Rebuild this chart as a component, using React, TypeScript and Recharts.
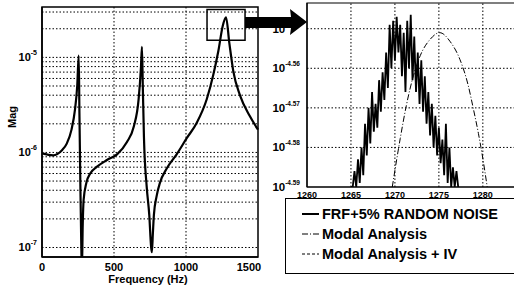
import React from 'react';
import { LineChart, Line, XAxis, YAxis, ReferenceLine, ReferenceArea } from 'recharts';

// ---- Left plot: FRF magnitude (log10 of Mag) ----
const leftFreq = [0, 78, 137, 171, 205, 229, 245, 255, 260, 266, 272, 277, 283, 289, 308, 336, 382, 451, 521, 590, 637, 671, 687, 694, 700, 708, 727, 745, 758, 763, 770, 777, 796, 819, 866, 935, 1005, 1074, 1144, 1190, 1225, 1255, 1278, 1301, 1329, 1375, 1444, 1500];
const leftLogMag = [-6.01, -6.03, -5.98, -5.91, -5.76, -5.55, -5.29, -4.98, -5.6, -6.3, -6.9, -7.25, -6.75, -6.5, -6.32, -6.22, -6.15, -6.08, -6.02, -5.89, -5.73, -5.44, -5.11, -4.89, -5.3, -5.84, -6.36, -6.66, -7.0, -7.05, -6.85, -6.66, -6.46, -6.32, -6.17, -6.02, -5.85, -5.69, -5.44, -5.18, -4.93, -4.67, -4.58, -4.85, -5.15, -5.4, -5.62, -5.76];
const leftXTicks = [0, 500, 1000, 1500];
const leftDecades = [-7, -6, -5];
const minorMultipliers = [1, 2, 3, 4, 5, 6, 7, 8, 9];
const zoomBoxFreq = [1146, 1410];
const zoomBoxLog = [-4.82, -4.495];

// ---- Right plot: zoom around 1270 Hz ----
const noiseFreq = [1265.0, 1265.2, 1265.4, 1265.6, 1265.8, 1266.0, 1266.2, 1266.4, 1266.6, 1266.8, 1267.0, 1267.2, 1267.4, 1267.6, 1267.8, 1268.0, 1268.2, 1268.4, 1268.6, 1268.8, 1269.0, 1269.2, 1269.4, 1269.6, 1269.8, 1270.0, 1270.2, 1270.4, 1270.6, 1270.8, 1271.0, 1271.2, 1271.4, 1271.6, 1271.8, 1272.0, 1272.2, 1272.4, 1272.6, 1272.8, 1273.0, 1273.2, 1273.4, 1273.6, 1273.8, 1274.0, 1274.2, 1274.4, 1274.6, 1274.8, 1275.0, 1275.2, 1275.4, 1275.6, 1275.8, 1276.0, 1276.2, 1276.4, 1276.6, 1276.8, 1277.0, 1277.2];
const noiseLogMag = [-4.59, -4.59, -4.586, -4.59, -4.583, -4.589, -4.58, -4.587, -4.574, -4.582, -4.57, -4.579, -4.566, -4.576, -4.569, -4.575, -4.563, -4.571, -4.561, -4.568, -4.556, -4.565, -4.549, -4.56, -4.548, -4.558, -4.547, -4.556, -4.549, -4.562, -4.551, -4.566, -4.548, -4.56, -4.5465, -4.563, -4.552, -4.566, -4.556, -4.569, -4.558, -4.571, -4.562, -4.574, -4.566, -4.577, -4.569, -4.58, -4.572, -4.582, -4.575, -4.584, -4.578, -4.587, -4.574, -4.589, -4.58, -4.59, -4.585, -4.59, -4.586, -4.59];
const modalFreq = [1269.7, 1270.6, 1271.3, 1272.1, 1272.9, 1274.0, 1275.1, 1276.3, 1277.4, 1278.3, 1278.9, 1279.5, 1280.0, 1280.5];
const modalLogMag = [-4.59, -4.5778, -4.5694, -4.5619, -4.5567, -4.5527, -4.551, -4.5533, -4.5578, -4.564, -4.57, -4.5765, -4.5828, -4.59];
const rightXTicks = [1260, 1265, 1270, 1275, 1280];
const rightYTicks = [-4.59, -4.58, -4.57, -4.56, -4.55];
const rightXDomain = [1260, 1284];
const rightYDomain = [-4.59, -4.5435];
const leftYDomain = [-7.1, -4.47];

const legendLabels = ['FRF+5% RANDOM NOISE', 'Modal Analysis', 'Modal Analysis + IV'];

const leftData = leftFreq.map((f, i) => ({ f, m: leftLogMag[i] }));
const noiseData = noiseFreq.map((f, i) => ({ f, m: noiseLogMag[i] }));
const modalData = modalFreq.map((f, i) => ({ f, m: modalLogMag[i] }));
const leftYTicks = leftDecades
  .flatMap((d) => minorMultipliers.map((k) => d + Math.log10(k)))
  .filter((v) => v >= leftYDomain[0] && v <= leftYDomain[1]);

const FONT = '"Liberation Sans", Arial, sans-serif';
const GRID = { stroke: '#000', strokeWidth: 1, strokeDasharray: '1.5 2' };

const LeftYTick = (props: any) => {
  const v = props.payload.value;
  if (Math.abs(v - Math.round(v)) > 1e-6) return null;
  return (
    <text x={37} y={props.y + 4} textAnchor="end" fontFamily={FONT} fontWeight="bold" fontSize={11} fill="#000">
      10<tspan dy={-6} fontSize={7}>{String(Math.round(v))}</tspan>
    </text>
  );
};

const LeftXTick = (props: any) => (
  <text x={props.x} y={271} textAnchor="middle" fontFamily={FONT} fontWeight="bold" fontSize={11} fill="#000">
    {props.payload.value}
  </text>
);

const RightYTick = (props: any) => (
  <text x={50} y={props.y + 4} textAnchor="end" fontFamily={FONT} fontWeight="bold" fontSize={11.5} fill="#000">
    10<tspan dy={-6} fontSize={6.5}>{props.payload.value.toFixed(2)}</tspan>
  </text>
);

const RightXTick = (props: any) => (
  <text x={props.x} y={198} textAnchor="middle" fontFamily={FONT} fontWeight="bold" fontSize={9} fill="#000">
    {props.payload.value}
  </text>
);

const dashes = [undefined, '6 2 1 2', '3 2'];

export default function App() {
  return (
    <div style={{ position: 'absolute', left: 0, top: 0, width: 514, height: 285, overflow: 'hidden', background: '#fff' }}>
      <div style={{ position: 'absolute', left: 0, top: 0 }}>
        <LineChart width={265} height={285} data={leftData} margin={{ top: 7, right: 7, bottom: 0, left: 0 }}>
          <XAxis dataKey="f" type="number" domain={[0, 1500]} ticks={leftXTicks} height={28} tickLine={false} axisLine={{ stroke: '#000', strokeWidth: 1.5 }} tick={<LeftXTick />} />
          <YAxis type="number" domain={leftYDomain} ticks={leftYTicks} allowDataOverflow width={42} tickLine={false} axisLine={{ stroke: '#000', strokeWidth: 1.5 }} tick={<LeftYTick />} />
          {leftYTicks.map((v) => (
            <ReferenceLine key={'ly' + v} y={v} {...GRID} />
          ))}
          {leftXTicks.slice(1, -1).map((v) => (
            <ReferenceLine key={'lx' + v} x={v} {...GRID} />
          ))}
          <ReferenceArea x1={0} x2={1500} y1={leftYDomain[0]} y2={leftYDomain[1]} fill="none" stroke="#000" strokeWidth={1.5} ifOverflow="visible" />
          <Line dataKey="m" type="monotone" stroke="#000" strokeWidth={2.2} dot={false} isAnimationActive={false} />
          <ReferenceArea x1={zoomBoxFreq[0]} x2={zoomBoxFreq[1]} y1={zoomBoxLog[0]} y2={zoomBoxLog[1]} fill="none" stroke="#000" strokeWidth={1.5} ifOverflow="visible" />
        </LineChart>
      </div>
      <div style={{ position: 'absolute', left: 250, top: 0 }}>
        <LineChart width={270} height={285} margin={{ top: 3, right: 2, bottom: 78, left: 0 }}>
          <XAxis dataKey="f" type="number" domain={rightXDomain} ticks={rightXTicks} height={20} tickLine={false} axisLine={{ stroke: '#000', strokeWidth: 1.2 }} tick={<RightXTick />} allowDataOverflow />
          <YAxis type="number" domain={rightYDomain} ticks={rightYTicks} allowDataOverflow width={57} tickLine={false} axisLine={{ stroke: '#000', strokeWidth: 1.2 }} tick={<RightYTick />} />
          {rightYTicks.slice(1).map((v) => (
            <ReferenceLine key={'ry' + v} y={v} {...GRID} />
          ))}
          {rightXTicks.slice(1).map((v) => (
            <ReferenceLine key={'rx' + v} x={v} {...GRID} />
          ))}
          <ReferenceArea x1={rightXDomain[0]} x2={rightXDomain[1]} y1={rightYDomain[0]} y2={rightYDomain[1]} fill="none" stroke="#000" strokeWidth={1.2} ifOverflow="visible" />
          <Line data={noiseData} dataKey="m" type="linear" stroke="#000" strokeWidth={1.8} dot={false} isAnimationActive={false} />
          <Line data={modalData} dataKey="m" type="monotone" stroke="#000" strokeWidth={1} strokeDasharray="6 2 1 2" dot={false} isAnimationActive={false} />
        </LineChart>
      </div>
      <svg width={514} height={285} style={{ position: 'absolute', left: 0, top: 0, pointerEvents: 'none' }}>
        <polygon points="245,17 291,17 290,9 307,22 290,35 291,28 245,28" fill="#000" />
        <text x={0} y={0} transform="translate(16,117) rotate(-90)" textAnchor="middle" fontFamily={FONT} fontWeight="bold" fontSize={11} fill="#000">Mag</text>
        <text x={148} y={283} textAnchor="middle" fontFamily={FONT} fontWeight="bold" fontSize={11} fill="#000">Frequency (Hz)</text>
      </svg>
      <div style={{ position: 'absolute', left: 285, top: 198, width: 240, height: 74, border: '1px solid #000', background: '#fff', fontFamily: FONT, fontWeight: 'bold', fontSize: 14.5, lineHeight: '20px' }}>
        {legendLabels.map((label, i) => (
          <div key={label} style={{ position: 'absolute', left: 0, top: 5 + i * 20, height: 20, display: 'flex', alignItems: 'center' }}>
            <svg width={36} height={20}>
              <line x1={16} x2={33} y1={10} y2={10} stroke="#000" strokeWidth={i === 0 ? 2 : 1} strokeDasharray={dashes[i]} />
            </svg>
            <span style={{ whiteSpace: 'nowrap' }}>{label}</span>
          </div>
        ))}
      </div>
    </div>
  );
}
